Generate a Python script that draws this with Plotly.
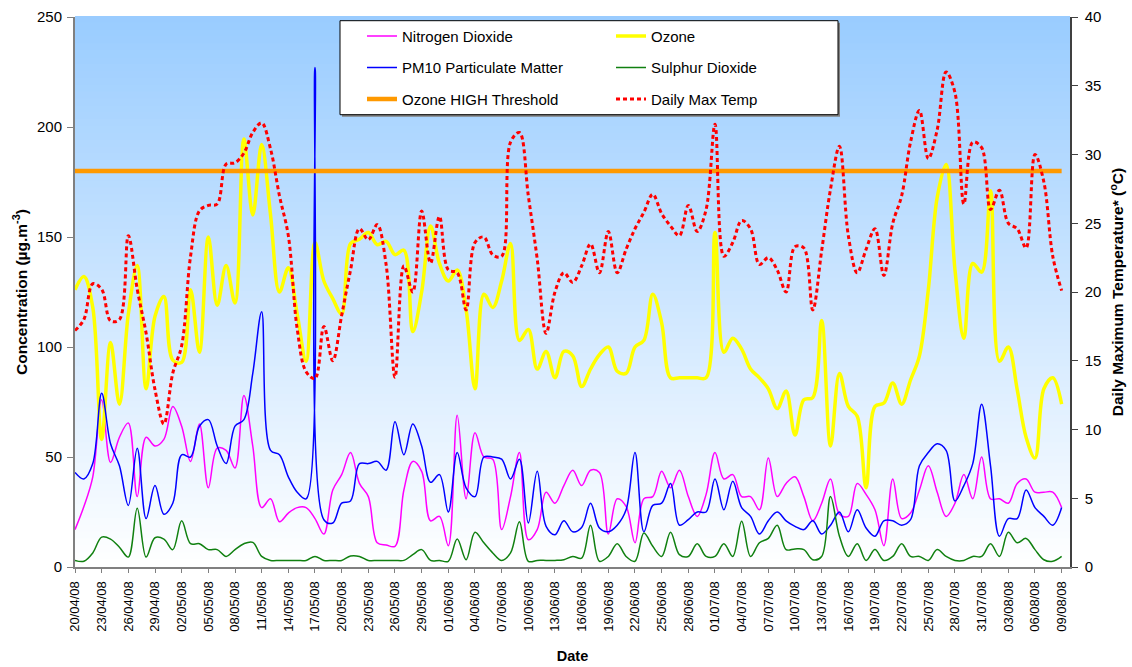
import pandas as pd
import plotly.graph_objects as go

# ---------------- data ----------------
DATES = [d.strftime('%d/%m/%y') for d in pd.date_range('2008-04-20', '2008-08-09', freq='D')]
TICK_LABELS = DATES[::3]

NO2 = [17, 27.5, 41, 76, 47.5, 59, 65.5, 32, 59, 55, 58, 73, 64, 48, 65, 36, 54, 53, 45, 78,
       55, 27, 31, 20.6, 24.5, 27, 27, 22, 15,
       35, 42, 52, 38, 32, 11, 10, 9.4, 35, 48, 43.5, 21, 23, 9.7, 69, 31, 61, 50, 49, 17,
       32, 52, 12.4, 17, 34, 29, 37, 44, 37,
       44, 43, 15, 31, 27.6, 11, 31, 32, 43.5, 36, 44, 32, 23, 33, 52, 40, 42, 32, 32, 26,
       49.5, 32, 38, 41, 32, 21, 29, 40,
       24, 23, 38, 33, 26, 9.7, 40, 22, 24.5, 35, 46, 34, 23, 29, 42, 31, 50, 31, 31, 29,
       38, 40, 34, 34, 34, 27]

OZONE = [126, 132, 118, 58, 102, 74, 115, 137, 81, 114, 123, 94, 93, 126, 97.6, 150, 119, 137,
         120, 194.5, 160, 192, 160, 125, 136, 115, 93.5, 147.5, 130,
         122, 115, 147, 149, 152, 146.5, 148, 142, 144, 107, 125, 155, 138, 130, 135, 117, 81,
         124, 118, 130, 147, 103, 108, 90, 98, 86, 98, 96, 82,
         90, 96.5, 100, 89, 88, 100, 103, 124, 111, 86, 86, 86, 86, 86, 152, 97.6, 104, 99,
         90, 86, 81, 72, 80, 60, 76, 77, 112, 55,
         88, 73, 68.5, 36, 73, 74.5, 83.6, 74, 85, 96, 126, 168, 183, 135, 104, 138, 134, 171,
         93.5, 100, 80.6, 59, 49.5, 81, 86, 74]

PM10 = [43, 40, 47, 79, 56, 46, 28, 54, 22, 37, 24, 29, 51, 50, 64, 67, 55, 47, 64, 67,
        88, 116, 53, 51, 41, 34, 31, 227, 21.5,
        20, 29, 30, 47, 47, 48, 44, 66, 51, 65, 55, 38.5, 42, 25, 52, 36, 32, 50, 50, 49,
        40, 49, 20, 43.5, 18.5, 14.7, 21, 16, 18,
        29, 17.7, 16, 19, 26, 52, 16, 28, 29, 38, 19, 21.5, 25, 25, 40, 26, 39, 27, 23, 15,
        21, 25, 21, 18.5, 17, 21, 15, 19,
        25, 16, 26, 17.7, 14, 21, 21, 19, 21.5, 46, 52, 56, 53, 30, 37, 47, 74, 46, 14, 22,
        22, 35, 27, 23, 19, 27]

SO2 = [3, 2.6, 6.4, 13.6, 12.7, 9, 4.5, 26.7, 4.5, 13.3, 12.7, 7.9, 21, 10.6, 10.6, 7.9,
       7.9, 4.8, 7.9, 10.6, 11.2, 4.8, 3, 3, 3, 3, 3, 4.8, 3,
       3, 3, 5, 4.8, 3, 3, 3, 3, 3, 5.6, 7.9, 3, 3, 2.6, 12.7, 3.3, 15.8, 11, 6.4, 3, 6.4,
       20.6, 2.6, 3, 3, 3, 3.3, 4.8, 4,
       19, 2.6, 4.8, 10.6, 4.8, 2.6, 15.5, 9.4, 4.8, 15.8, 5.6, 4.8, 10.6, 4.8, 4.8, 10.6,
       4.8, 20.8, 4.8, 11, 13, 19, 7.9, 8.2, 7.9, 3.3, 4.8, 32,
       14, 4.8, 10.6, 3, 7.9, 3, 4.8, 10.6, 4.8, 4.8, 3, 7.9, 4.8, 3, 3, 4.8, 4.8, 10.6, 4.8,
       15.8, 11, 13, 7.9, 3.3, 2.6, 4.8]

OZONE_THRESHOLD = [180] * len(DATES)

TEMP = [17.2, 18.0, 20.6, 20.2, 17.9, 18.0, 24.1, 20.2, 17.0, 12.9, 10.4, 14.1, 16.1, 22.6,
        25.9, 26.3, 26.4, 29.3, 29.4, 30.1, 31.6, 32.3, 30.4, 27.0, 24.1, 17.3, 14.2, 13.7, 17.5,
        15, 18.3, 21.6, 24.6, 23.8, 24.9, 22, 13.8, 21.9, 20, 25.9, 22.1, 25.5, 21.6, 21.4,
        18.7, 23.6, 24, 22.7, 22.6, 30.9, 31.6, 27, 22.4, 17, 20, 21.4, 20.7, 21.9,
        23.5, 21.4, 24.4, 21.4, 23.1, 24.6, 25.8, 27.1, 25.7, 24.8, 24.1, 26.3, 24.4, 26, 32.2,
        22.6, 23.6, 25.2, 24.6, 22, 22.5, 21.6, 20, 23.3, 23.2, 18.7, 23, 27.5,
        30.6, 24.1, 21.4, 23.1, 24.6, 21.2, 25, 27, 30.9, 33.2, 29.7, 31.8, 36, 34.5, 26.4,
        30.9, 30.5, 26, 27.4, 25, 24.6, 23.2, 30, 28, 22.6, 20.1]

Y_TICKS = [0, 50, 100, 150, 200, 250]
Y2_TICKS = [0, 5, 10, 15, 20, 25, 30, 35, 40]

FONT = "Liberation Sans, Arial, sans-serif"

# ---------------- figure ----------------
fig = go.Figure()

def add(y, name, color, width, legend, group, dash=None, axis='y'):
    fig.add_trace(go.Scatter(
        x=DATES, y=y, name=name, mode='lines', yaxis=axis,
        line=dict(color=color, width=width, shape='spline', smoothing=1, dash=dash),
        legend=legend, legendgroup=group))

add(NO2, 'Nitrogen Dioxide', '#FF00FF', 1.5, 'legend', 'a')
add(OZONE, 'Ozone', '#FFFF00', 3.5, 'legend2', 'b')
add(PM10, 'PM10 Particulate Matter', '#0000FF', 1.5, 'legend', 'c')
add(SO2, 'Sulphur Dioxide', '#108010', 1.5, 'legend2', 'd')
fig.add_trace(go.Scatter(
    x=DATES, y=OZONE_THRESHOLD, name='Ozone HIGH Threshold', mode='lines',
    line=dict(color='#FF9900', width=4.5), legend='legend', legendgroup='e'))
add(TEMP, 'Daily Max Temp', '#FF0000', 3, 'legend2', 'f', dash='4px,3px', axis='y2')

# background gradient (light blue to white)
shapes = []
N = 80
top = (153, 204, 255)
bot = (255, 255, 255)
for i in range(N):
    t = (i + 0.5) / N
    c = tuple(round(top[k] + (bot[k] - top[k]) * t) for k in range(3))
    shapes.append(dict(type='rect', xref='paper', yref='paper', layer='below',
                       x0=0, x1=1, y0=1 - (i + 1) / N, y1=1 - i / N + 0.002,
                       fillcolor='rgb(%d,%d,%d)' % c, line=dict(width=0)))

# legend box
def px2x(px):
    return (px - 75) / 995.0

def px2y(py):
    return (567.3 - py) / 550.0

shapes.append(dict(type='rect', xref='paper', yref='paper', layer='above',
                   x0=px2x(342), x1=px2x(840), y0=px2y(117), y1=px2y(23),
                   fillcolor='#808080', line=dict(width=0)))
shapes.append(dict(type='rect', xref='paper', yref='paper', layer='above',
                   x0=px2x(340), x1=px2x(838), y0=px2y(115), y1=px2y(21),
                   fillcolor='white', line=dict(color='black', width=1)))

legend_common = dict(bgcolor='rgba(0,0,0,0)', borderwidth=0, orientation='v',
                     font=dict(family=FONT, size=15, color='black'),
                     tracegroupgap=9, yanchor='top', xanchor='left',
                     itemclick=False, itemdoubleclick=False)

fig.update_layout(
    width=1132, height=667,
    margin=dict(l=75, r=62, t=17, b=100, autoexpand=False),
    paper_bgcolor='white', plot_bgcolor='white',
    font=dict(family=FONT, size=14, color='black'),
    shapes=shapes,
    showlegend=True,
    legend=dict(x=px2x(362), y=px2y(20), **legend_common),
    legend2=dict(x=px2x(611), y=px2y(20), **legend_common),
    xaxis=dict(type='category', range=[0, 111.94], tickmode='array', automargin=False,
               tickvals=TICK_LABELS, ticktext=TICK_LABELS, tickangle=-90,
               tickfont=dict(size=13), ticks='outside', ticklen=4, tickcolor='#808080',
               ticklabelstandoff=3,
               showline=True, linecolor='#808080', linewidth=2, showgrid=False, zeroline=False,
               title=dict(text='<b>Date</b>', font=dict(size=14.5), standoff=20)),
    yaxis=dict(range=[0, 250], tickvals=Y_TICKS, ticks='outside', ticklen=6, automargin=False,
               tickcolor='#808080', showline=True, linecolor='#808080', linewidth=2,
               showgrid=False, zeroline=False, tickfont=dict(size=15),
               ticklabelstandoff=2,
               title=dict(text='<b>Concentration (µg.m<sup>-3</sup>)</b>',
                          font=dict(size=15.5), standoff=6)),
    yaxis2=dict(range=[0, 40], tickvals=Y2_TICKS, overlaying='y', side='right',
                ticks='outside', ticklen=6, tickcolor='#404040', showline=True,
                automargin=False,
                linecolor='#404040', linewidth=1.5, showgrid=False, zeroline=False,
                tickfont=dict(size=15), ticklabelstandoff=4,
                title=dict(text='<b>Daily Maximum Temperature* (<sup>o</sup>C)</b>',
                           font=dict(size=15.5), standoff=12)),
)

fig.write_html("out.html", config={'displayModeBar': False},
               post_script="document.body.style.margin='0';")
